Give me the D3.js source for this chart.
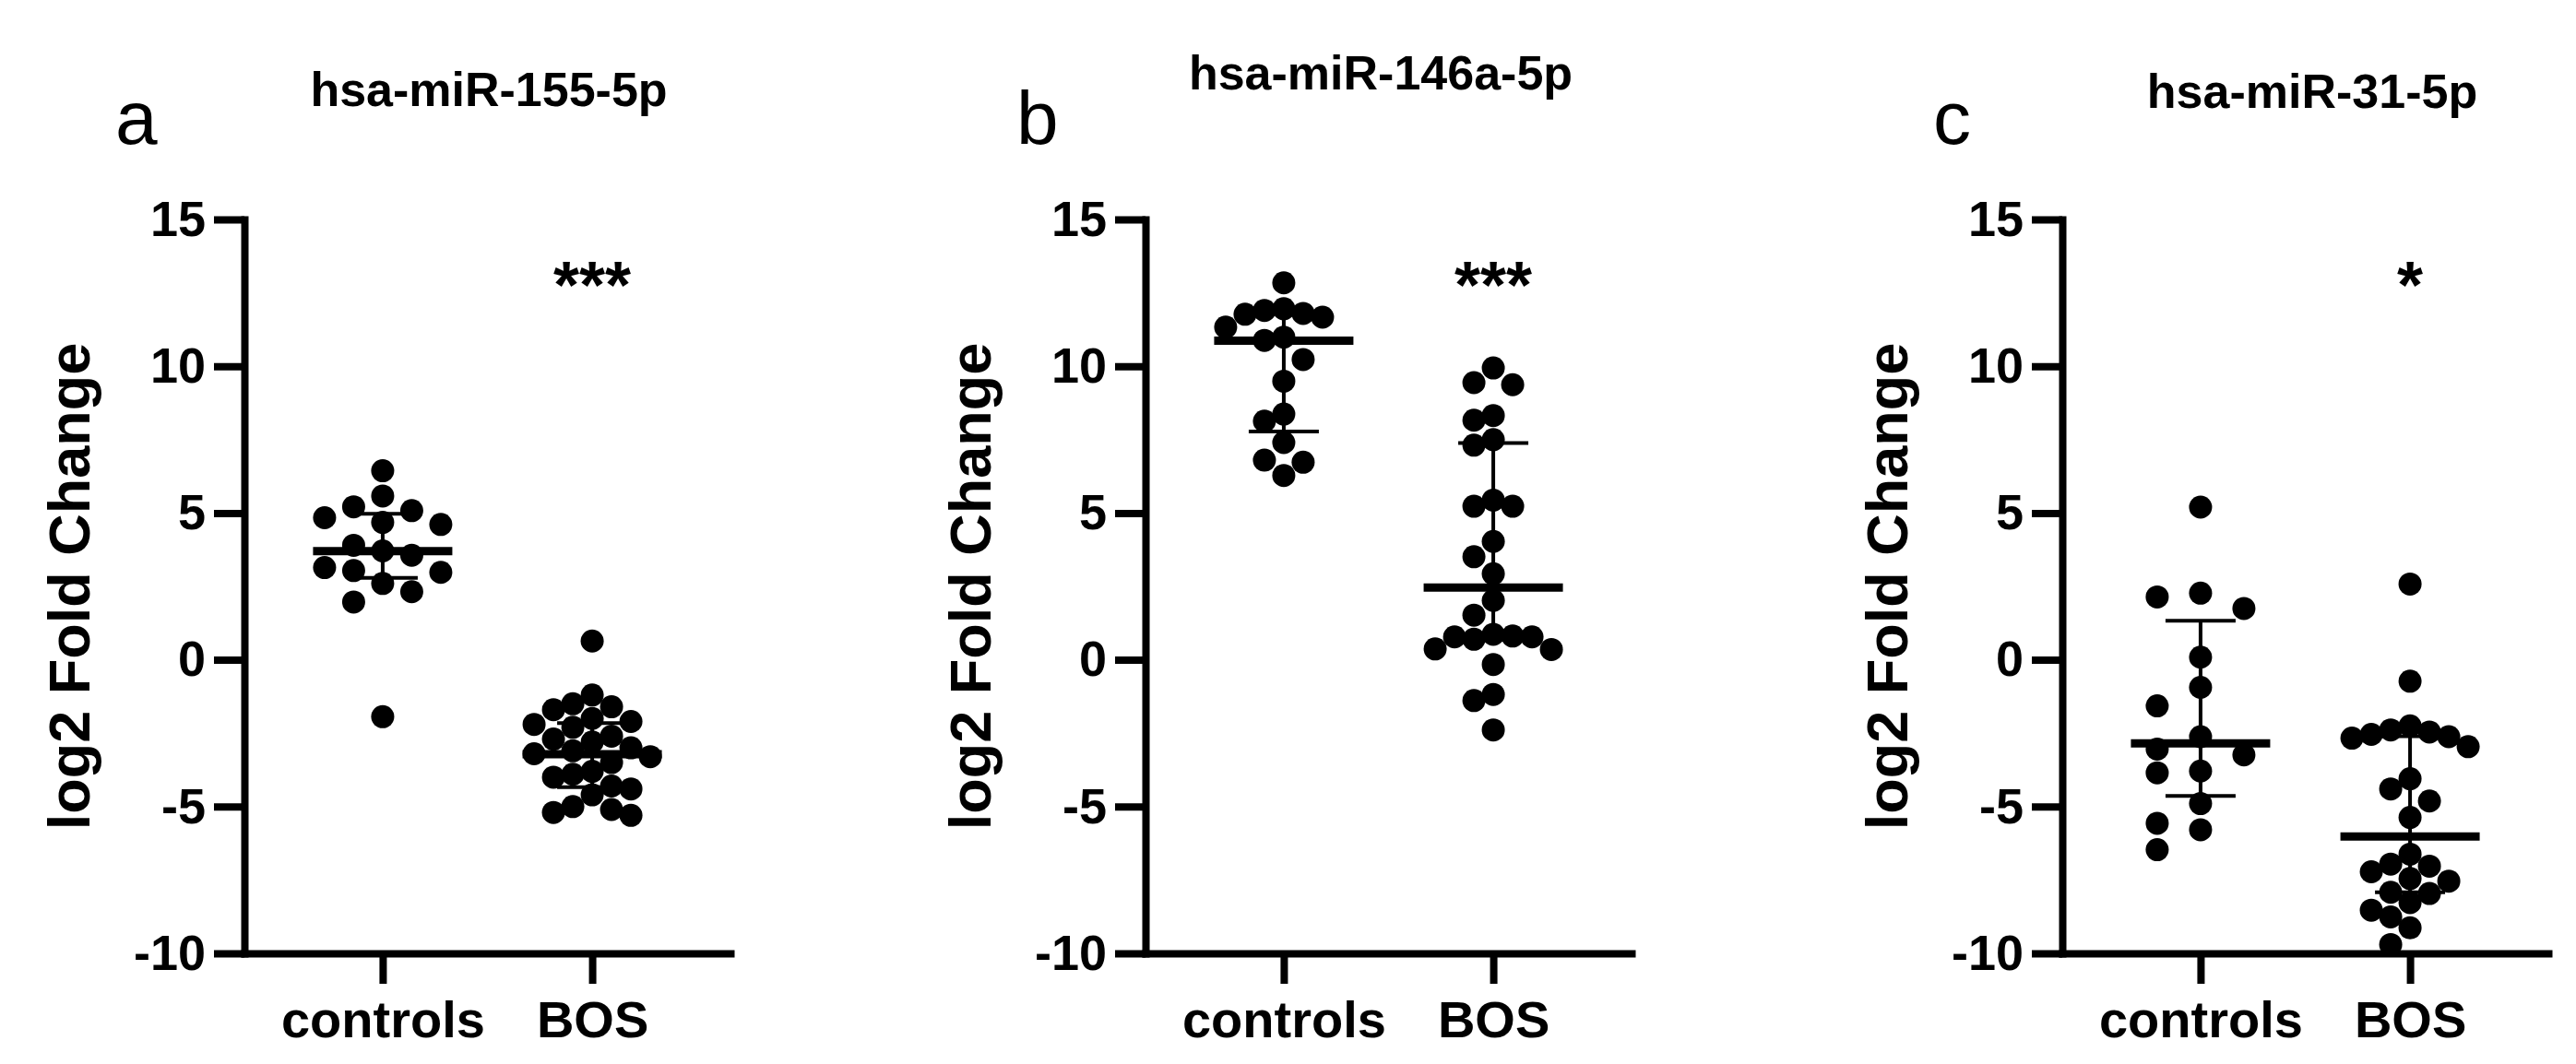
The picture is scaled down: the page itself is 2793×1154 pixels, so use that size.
<!DOCTYPE html>
<html>
<head>
<meta charset="utf-8">
<script src="https://cdn.jsdelivr.net/npm/d3@7"></script>
<style>
  html, body { margin: 0; padding: 0; background: #fff; }
  svg { display: block; }
</style>
</head>
<body>
<svg id="chart" width="2793" height="1154"></svg>
<script>
// ---------------- data ----------------
const categories = ["controls", "BOS"];
const panelLetters = ["a", "b", "c"];
const panelTitles = ["hsa-miR-155-5p", "hsa-miR-146a-5p", "hsa-miR-31-5p"];
const significance = ["***", "***", "*"];
const yTicks = [-10, -5, 0, 5, 10, 15];
const yTickLabels = ["-10", "-5", "0", "5", "10", "15"];
const yLabel = "log2 Fold Change";

const miR155Controls = [6.44, 5.58, 5.21, 5.08, 4.84, 4.68, 4.61, 3.90, 3.71, 3.56, 3.14, 3.04, 2.98, 2.60, 2.32, 1.97, -1.94];
const miR155BOS = [0.64, -1.2, -1.5, -1.6, -1.7, -2.0, -2.1, -2.2, -2.3, -2.6, -2.7, -2.8, -3.0, -3.1, -3.2, -3.3, -3.5, -3.8, -3.9, -4.0, -4.3, -4.4, -4.6, -5.0, -5.1, -5.2, -5.3];
const miR146Controls = [12.84, 11.96, 11.90, 11.80, 11.77, 11.67, 11.33, 10.99, 10.88, 10.23, 9.49, 8.37, 8.13, 7.40, 6.80, 6.73, 6.28];
const miR146BOS = [9.94, 9.44, 9.37, 8.32, 8.16, 7.50, 7.31, 5.44, 5.23, 5.23, 4.03, 3.51, 2.93, 2.02, 1.52, 0.87, 0.81, 0.78, 0.78, 0.70, 0.37, 0.35, -0.16, -1.18, -1.39, -2.39];
const miR31Controls = [5.20, 2.27, 2.14, 1.75, 0.09, -0.94, -1.57, -2.62, -3.04, -3.24, -3.79, -3.85, -4.90, -5.57, -5.79, -6.47];
const miR31BOS = [2.58, -0.73, -2.25, -2.39, -2.46, -2.54, -2.62, -2.67, -2.96, -4.05, -4.40, -4.81, -5.37, -6.62, -6.96, -7.03, -7.22, -7.45, -7.54, -7.92, -7.96, -8.27, -8.53, -8.76, -9.13, -9.70];

// median and interquartile range
const medians = [[3.70, -3.22], [10.87, 2.46], [-2.85, -6.02]];
const upperQuartiles = [[4.97, -2.16], [11.83, 7.38], [1.33, -2.60]];
const lowerQuartiles = [[2.79, -4.34], [7.78, 0.68], [-4.64, -7.92]];

const panelSeries = [
  [miR155Controls, miR155BOS],
  [miR146Controls, miR146BOS],
  [miR31Controls, miR31BOS]
];

// ---------------- layout ----------------
const FONT = "'Liberation Sans', Arial, Helvetica, sans-serif";
const axisXs = [265, 1242, 2236];
const titleCenters = [530, 1497, 2507];
const titleBaselines = [115, 97, 117];
const plotTop = 238, plotBottom = 1034, plotWidth = 527;
const dotR = 12.5;

const svg = d3.select("#chart");
svg.append("rect").attr("width", 2793).attr("height", 1154).attr("fill", "#fff");

const y = d3.scaleLinear().domain([-10, 15]).range([plotBottom, plotTop]);

function swarm(vals, thr) {
  const pts = vals.map(v => ({ v, py: y(v) })).sort((a, b) => a.py - b.py);
  const placed = [];
  for (const p of pts) {
    for (let k = 0; ; k++) {
      const col = k === 0 ? 0 : (k % 2 === 1 ? -Math.ceil(k / 2) : Math.ceil(k / 2));
      if (!placed.some(q => q.col === col && Math.abs(q.py - p.py) < thr)) { p.col = col; break; }
    }
    placed.push(p);
  }
  const maxAbs = d3.max(placed, d => Math.abs(d.col));
  const step = maxAbs ? Math.min(47, 63 / maxAbs) : 0;
  placed.forEach(p => p.dx = p.col * step);
  return placed;
}

panelSeries.forEach((series, pi) => {
  const ax = axisXs[pi];
  const g = svg.append("g").attr("transform", `translate(${ax},0)`);
  const x = d3.scalePoint().domain(categories).range([0, plotWidth]).padding(0.66);

  // y axis
  const yAxis = g.append("g")
    .call(d3.axisLeft(y).tickValues(yTicks)
      .tickFormat((d, i) => yTickLabels[i])
      .tickSize(33).tickSizeOuter(0).tickPadding(9));
  yAxis.select(".domain").attr("stroke", "#000").attr("stroke-width", 8).attr("stroke-linecap", "square");
  yAxis.selectAll(".tick line").attr("stroke", "#000").attr("stroke-width", 8);
  yAxis.selectAll(".tick text")
    .attr("fill", "#000").attr("font-family", FONT).attr("font-weight", "bold").attr("font-size", 54);

  // x axis
  const xAxis = g.append("g").attr("transform", `translate(0,${plotBottom})`)
    .call(d3.axisBottom(x).tickSize(33).tickSizeOuter(0).tickPadding(18));
  xAxis.select(".domain").attr("stroke", "#000").attr("stroke-width", 8).attr("stroke-linecap", "square");
  xAxis.selectAll(".tick line").attr("stroke", "#000").attr("stroke-width", 8);
  xAxis.selectAll(".tick text")
    .attr("fill", "#000").attr("font-family", FONT).attr("font-weight", "bold").attr("font-size", 56);

  // y label
  g.append("text")
    .attr("transform", `translate(-168,${(plotTop + plotBottom) / 2}) rotate(-90)`)
    .attr("text-anchor", "middle")
    .attr("font-family", FONT).attr("font-weight", "bold").attr("font-size", 63)
    .text(yLabel);

  // dots
  series.forEach((vals, ci) => {
    const cx = x(categories[ci]);
    const pts = swarm(vals, 25);
    g.append("g").selectAll("circle").data(pts).join("circle")
      .attr("cx", d => cx + d.dx)
      .attr("cy", d => d.py)
      .attr("r", dotR)
      .attr("fill", "#000");

    // median + IQR
    const eb = g.append("g").attr("stroke", "#000");
    eb.append("line").attr("x1", cx).attr("x2", cx)
      .attr("y1", y(upperQuartiles[pi][ci])).attr("y2", y(lowerQuartiles[pi][ci])).attr("stroke-width", 4);
    [upperQuartiles[pi][ci], lowerQuartiles[pi][ci]].forEach(q => {
      eb.append("line").attr("x1", cx - 38).attr("x2", cx + 38)
        .attr("y1", y(q)).attr("y2", y(q)).attr("stroke-width", 4);
    });
    eb.append("line").attr("x1", cx - 75.5).attr("x2", cx + 75.5)
      .attr("y1", y(medians[pi][ci])).attr("y2", y(medians[pi][ci])).attr("stroke-width", 9);
  });

  // significance
  g.append("text")
    .attr("x", x("BOS")).attr("y", 334)
    .attr("text-anchor", "middle")
    .attr("font-family", FONT).attr("font-weight", "bold").attr("font-size", 72)
    .text(significance[pi]);

  // panel letter
  svg.append("text")
    .attr("x", ax - 140).attr("y", 156)
    .attr("font-family", FONT).attr("font-size", 82)
    .text(panelLetters[pi]);

  // title
  svg.append("text")
    .attr("x", titleCenters[pi]).attr("y", titleBaselines[pi])
    .attr("text-anchor", "middle")
    .attr("font-family", FONT).attr("font-weight", "bold").attr("font-size", 52)
    .text(panelTitles[pi]);
});
</script>
</body>
</html>
